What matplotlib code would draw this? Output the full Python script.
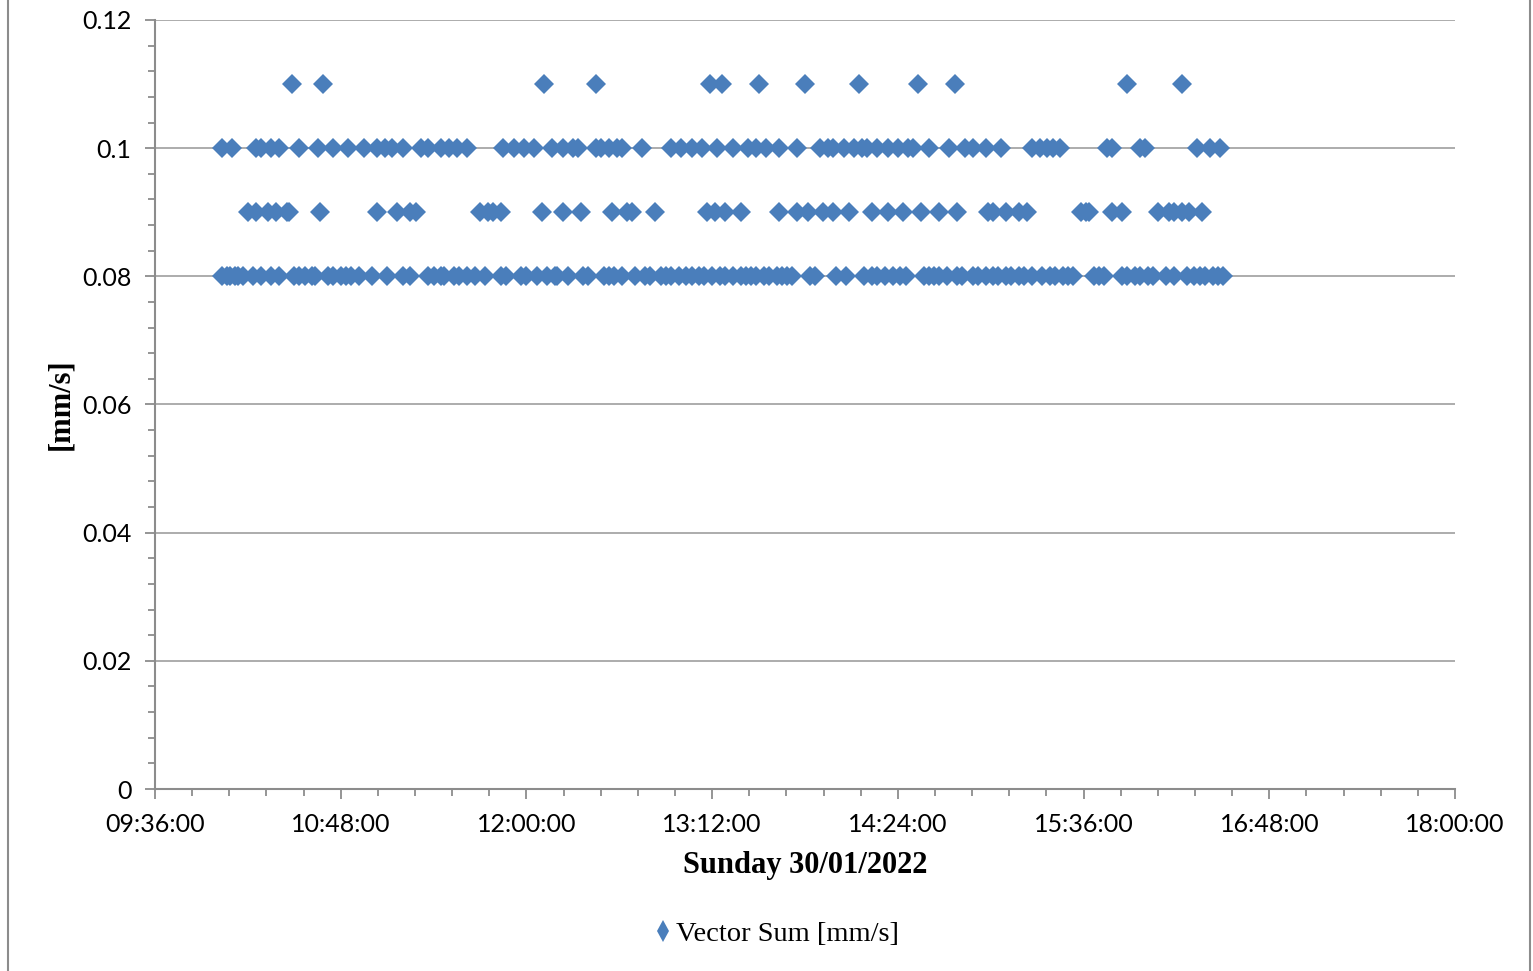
import matplotlib
matplotlib.use("Agg")
import matplotlib.pyplot as plt
import matplotlib.ticker as ticker
from matplotlib.lines import Line2D

# readings, grouped by level (time of day, HH:MM)
times_011 = ["10:29", "10:41", "12:07", "12:27", "13:11", "13:16", "13:30", "13:48",
             "14:09", "14:32", "14:46", "15:53", "16:14"]

times_010 = ["10:02", "10:06", "10:15", "10:17", "10:21", "10:24", "10:32", "10:39",
             "10:45", "10:51", "10:57", "11:02", "11:05", "11:08", "11:12", "11:19",
             "11:22", "11:27", "11:30", "11:33", "11:37", "11:51", "11:55", "11:59",
             "12:03", "12:10", "12:14", "12:18", "12:20", "12:27", "12:29", "12:32",
             "12:35", "12:37", "12:45", "12:56", "13:00", "13:04", "13:08", "13:14",
             "13:20", "13:26", "13:29", "13:33", "13:38", "13:45", "13:54", "13:57",
             "13:59", "14:03", "14:07", "14:10", "14:12", "14:16", "14:20", "14:24",
             "14:28", "14:30", "14:36", "14:44", "14:50", "14:53", "14:58", "15:04",
             "15:16", "15:19", "15:22", "15:24", "15:27", "15:45", "15:47", "15:58",
             "16:00", "16:20", "16:25", "16:29"]

times_009 = ["10:12", "10:15", "10:20", "10:23", "10:27", "10:28", "10:40", "11:02",
             "11:10", "11:15", "11:17", "11:42", "11:45", "11:47", "11:50", "12:06",
             "12:14", "12:21", "12:33", "12:39", "12:41", "12:50", "13:10", "13:13",
             "13:17", "13:23", "13:38", "13:45", "13:49", "13:55", "13:59", "14:05",
             "14:14", "14:20", "14:26", "14:33", "14:40", "14:47", "14:59", "15:01",
             "15:06", "15:11", "15:14", "15:35", "15:37", "15:38", "15:47", "15:51",
             "16:05", "16:09", "16:11", "16:14", "16:17", "16:22"]

times_008 = ["10:02", "10:04", "10:05", "10:07", "10:08", "10:10", "10:14", "10:17",
             "10:21", "10:24", "10:30", "10:32", "10:34", "10:37", "10:38", "10:43",
             "10:45", "10:48", "10:50", "10:52", "10:55", "11:00", "11:06", "11:12",
             "11:15", "11:22", "11:24", "11:27", "11:28", "11:32", "11:34", "11:37",
             "11:40", "11:44", "11:50", "11:52", "11:58", "12:00", "12:04", "12:08",
             "12:11", "12:12", "12:16", "12:22", "12:24", "12:30", "12:32", "12:34",
             "12:37", "12:42", "12:46", "12:48", "12:52", "12:54", "12:56", "12:59",
             "13:02", "13:04", "13:07", "13:09", "13:12", "13:15", "13:17", "13:20",
             "13:23", "13:25", "13:27", "13:29", "13:32", "13:34", "13:37", "13:39",
             "13:41", "13:43", "13:50", "13:52", "14:00", "14:04", "14:11", "14:14",
             "14:16", "14:19", "14:22", "14:25", "14:27", "14:34", "14:36", "14:38",
             "14:40", "14:43", "14:47", "14:49", "14:53", "14:55", "14:58", "15:01",
             "15:03", "15:06", "15:08", "15:11", "15:13", "15:16", "15:20", "15:23",
             "15:25", "15:28", "15:30", "15:32", "15:40", "15:42", "15:44", "15:51",
             "15:53", "15:56", "15:58", "16:01", "16:03", "16:08", "16:11", "16:16",
             "16:19", "16:21", "16:23", "16:26", "16:28", "16:30"]

levels = [0.11, 0.10, 0.09, 0.08]
groups = [times_011, times_010, times_009, times_008]


def to_min(s):
    h, m = s.split(":")
    return int(h) * 60 + int(m)


xs = []
ys = []
for lev, grp in zip(levels, groups):
    for t in grp:
        xs.append(to_min(t))
        ys.append(lev)

blue = "#4a7ebb"
grey = "#8c8c8c"
serif = "Liberation Serif"
sans = "Lato"

fig = plt.figure(figsize=(15.33, 9.71), dpi=100)
ax = fig.add_axes([155 / 1533, 1 - 789 / 971, 1300 / 1533, 769 / 971])

ax.plot(xs, ys, linestyle="none", marker="D", markersize=10,
        color=blue, markeredgewidth=0, zorder=3)

ax.set_xlim(576, 1080)
ax.set_ylim(0, 0.12)

ax.xaxis.set_major_locator(ticker.MultipleLocator(72))
ax.xaxis.set_minor_locator(ticker.MultipleLocator(14.4))
ax.xaxis.set_major_formatter(ticker.FuncFormatter(
    lambda v, p: "%02d:%02d:00" % (int(round(v)) // 60, int(round(v)) % 60)))
ax.yaxis.set_major_locator(ticker.MultipleLocator(0.02))
ax.yaxis.set_minor_locator(ticker.MultipleLocator(0.004))
ax.yaxis.set_major_formatter(ticker.FuncFormatter(lambda v, p: "%g" % round(v, 3)))

ax.grid(axis="y", which="major", color="#a6a6a6", linewidth=1.3)
ax.set_axisbelow(True)
for s in ["top", "right"]:
    ax.spines[s].set_visible(False)
for s in ["left", "bottom"]:
    ax.spines[s].set_color(grey)
    ax.spines[s].set_linewidth(1.5)

ax.tick_params(which="major", direction="out", length=7, width=1.3, color=grey,
               labelsize=18)
ax.tick_params(axis="x", which="major", pad=10)
ax.tick_params(axis="y", which="major", pad=10)
ax.tick_params(which="minor", direction="out", length=5, width=1.3, color=grey)
for lab in ax.get_xticklabels() + ax.get_yticklabels():
    lab.set_fontfamily(sans)

ax.set_xlabel("Sunday 30/01/2022", fontsize=22, fontweight="bold",
              fontfamily=serif, labelpad=11)
ax.set_ylabel("[mm/s]", fontsize=22, fontweight="bold", fontfamily=serif, labelpad=5)

handle = Line2D([], [], linestyle="none", marker="d", markersize=11,
                color=blue, markeredgewidth=0)
ax.legend([handle], ["Vector Sum [mm/s]"], loc="center",
          bbox_to_anchor=(775 / 1533, 1 - 934 / 971),
          bbox_transform=fig.transFigure, frameon=False, handletextpad=0.05,
          handlelength=0.8, prop={"family": serif, "size": 20.5})

# outer chart border
fig.add_artist(Line2D([8 / 1533, 8 / 1533], [0, 1], color=grey, linewidth=1.5))
fig.add_artist(Line2D([1530 / 1533, 1530 / 1533], [0, 1], color=grey, linewidth=1.5))

fig.savefig("out.png", dpi=100)
